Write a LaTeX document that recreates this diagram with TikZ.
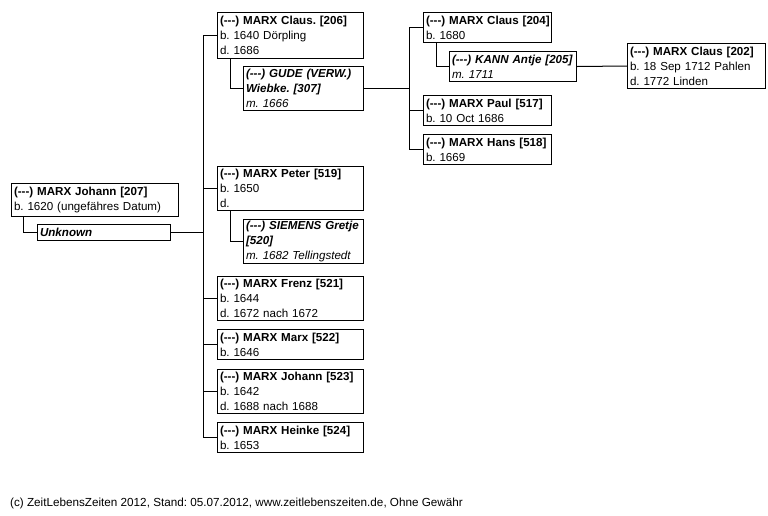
\documentclass[tikz,border=0pt]{standalone}
\usepackage{fontspec}
\setmainfont{Liberation Sans}
\usetikzlibrary{positioning}
\frenchspacing
\definecolor{TreeLine}{HTML}{000000}
\tikzset{every node/.style={font=\fontsize{11.6}{15}\selectfont},person/.style={draw=TreeLine,
 line width=1pt,anchor=north west,align=left,inner xsep=2.5pt,inner ysep=0pt},
 spouse/.style={person,font=\fontsize{11.6}{15}\selectfont\itshape},
 link/.style={draw=TreeLine,line width=1pt}}
\newcommand{\pname}[1]{\textbf{\mbox{(-{}-{}-) #1}}}

\begin{document}
\begin{tikzpicture}[x=1pt,y=-1pt]
\useasboundingbox (0,0) rectangle (768,515);
\node[person,text width=162pt,minimum height=33pt] (johann) at (11,183) {\pname{MARX Johann [207]}\\b. 1620 (ungefähres Datum)};
\node[spouse,text width=128pt,minimum height=16pt] (unk) at (37,224) {\textbf{Unknown}};
\node[person,text width=141pt,minimum height=46pt] (claus206) at (217,12) {\pname{MARX Claus. [206]}\\b. 1640 Dörpling\\d. 1686};
\node[spouse,text width=115pt,minimum height=44pt] (gude) at (243,66) {\pname{GUDE (VERW.)}\\\textbf{Wiebke. [307]}\\m. 1666};
\node[person,text width=123pt,minimum height=30pt] (claus204) at (423,12) {\pname{MARX Claus [204]}\\b. 1680};
\node[spouse,text width=122pt,minimum height=30pt] (kann) at (449,51) {\pname{KANN Antje [205]}\\m. 1711};
\node[person,text width=133pt,minimum height=45pt] (claus202) at (627,43) {\pname{MARX Claus [202]}\\b. 18 Sep 1712 Pahlen\\d. 1772 Linden};
\node[person,text width=123pt,minimum height=30pt] (paul) at (423,95) {\pname{MARX Paul [517]}\\b. 10 Oct 1686};
\node[person,text width=123pt,minimum height=30pt] (hans) at (423,134) {\pname{MARX Hans [518]}\\b. 1669};
\node[person,text width=141pt,minimum height=44pt] (peter) at (217,166) {\pname{MARX Peter [519]}\\b. 1650\\d.};
\node[spouse,text width=115pt,minimum height=44pt] (siemens) at (243,219) {\pname{SIEMENS Gretje}\\\textbf{[520]}\\m. 1682 Tellingstedt};
\node[person,text width=141pt,minimum height=44pt] (frenz) at (217,276) {\pname{MARX Frenz [521]}\\b. 1644\\d. 1672 nach 1672};
\node[person,text width=141pt,minimum height=30pt] (marx) at (217,329) {\pname{MARX Marx [522]}\\b. 1646};
\node[person,text width=141pt,minimum height=44pt] (johann523) at (217,369) {\pname{MARX Johann [523]}\\b. 1642\\d. 1688 nach 1688};
\node[person,text width=141pt,minimum height=30pt] (heinke) at (217,422) {\pname{MARX Heinke [524]}\\b. 1653};
\node[anchor=west,inner sep=0pt,font=\fontsize{11.7}{14}\selectfont] (foot) at (10,503) {(c) ZeitLebensZeiten 2012, Stand: 05.07.2012, www.zeitlebenszeiten.de, Ohne Gewähr};
% trunks
\coordinate (trunkA) at (203,0);
\coordinate (trunkB) at (409,0);
\draw[link] ([xshift=12pt]johann.south west) |- (unk.west);
\draw[link] (unk.east) -- (unk.east -| trunkA);
\draw[link] (claus206.west) -| (trunkA |- heinke.west) -- (heinke.west);
\foreach \n in {peter,frenz,marx,johann523}
  \draw[link] (\n.west) -- (\n.west -| trunkA);
\draw[link] ([xshift=13pt]claus206.south west) |- (gude.west);
\draw[link] ([xshift=13pt]peter.south west) |- (siemens.west);
\draw[link] (gude.east) -- (gude.east -| trunkB);
\draw[link] (claus204.west) -| (trunkB |- hans.west) -- (hans.west);
\draw[link] (paul.west) -- (paul.west -| trunkB);
\draw[link] ([xshift=13pt]claus204.south west) |- (kann.west);
\draw[link] (kann.east) -- (claus202.west);
\end{tikzpicture}
\end{document}
